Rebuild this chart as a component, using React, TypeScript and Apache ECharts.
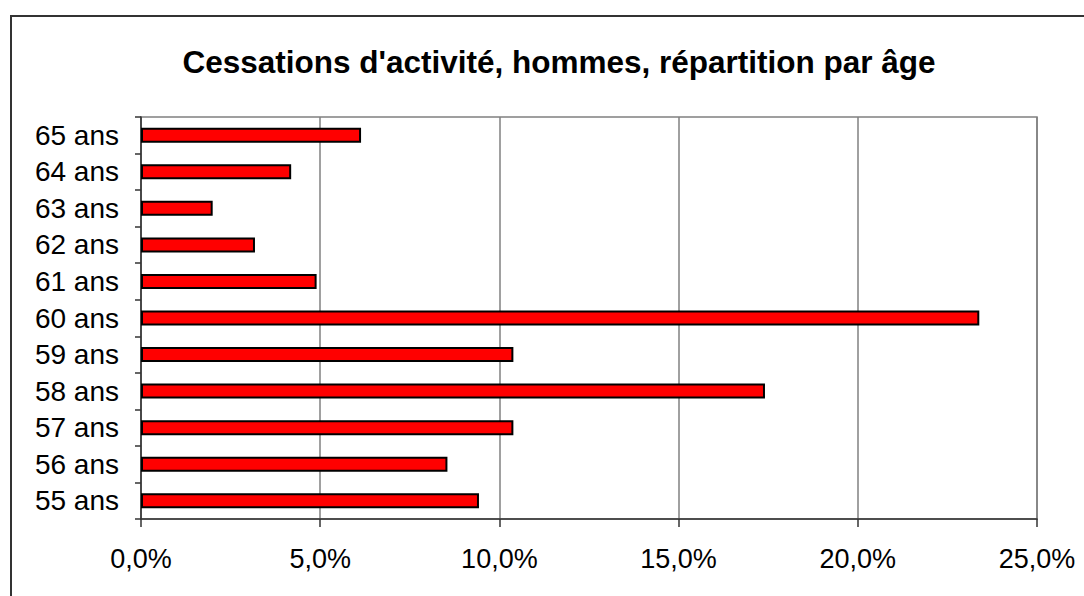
import React, { useEffect, useRef } from "react";
import * as echarts from "echarts";

const categories = ["55 ans", "56 ans", "57 ans", "58 ans", "59 ans", "60 ans", "61 ans", "62 ans", "63 ans", "64 ans", "65 ans"];
const values = [9.43, 8.55, 10.39, 17.41, 10.39, 23.39, 4.9, 3.18, 2.0, 4.19, 6.14];
const xTicks = { min: 0, max: 25, interval: 5 };
const titleText = "Cessations d'activité, hommes, répartition par âge";

export default function App() {
  const ref = useRef<HTMLDivElement>(null);
  useEffect(() => {
    const chart = echarts.init(ref.current!, null, { renderer: "svg" });
    const font = '"Liberation Sans", Arial, sans-serif';
    chart.setOption({
      animation: false,
      backgroundColor: "#ffffff",
      title: {
        text: titleText,
        left: 554,
        top: 41,
        textAlign: "center",
        textStyle: { fontFamily: font, fontWeight: "bold", fontSize: 31.5, color: "#000" },
      },
      graphic: [
        {
          type: "rect",
          shape: { x: 11, y: 16, width: 1200, height: 700 },
          style: { fill: "none", stroke: "#333", lineWidth: 2 },
          z: -10,
        },
        {
          type: "rect",
          shape: { x: 141, y: 117, width: 896, height: 402 },
          style: { fill: "none", stroke: "#808080", lineWidth: 1.5 },
          z: -5,
        },
      ],
      grid: { left: 141, top: 117, right: 47, bottom: 77, containLabel: false },
      xAxis: {
        type: "value",
        min: xTicks.min,
        max: xTicks.max,
        interval: xTicks.interval,
        axisLine: { show: true, lineStyle: { color: "#333", width: 1.5 } },
        axisTick: { show: true, inside: false, length: 8, lineStyle: { color: "#333", width: 1.5 } },
        splitLine: { show: true, lineStyle: { color: "#808080", width: 1.5 } },
        axisLabel: {
          margin: 26,
          fontFamily: font,
          fontSize: 27,
          color: "#000",
          formatter: (v: number) => v.toFixed(1).replace(".", ",") + "%",
        },
      },
      yAxis: {
        type: "category",
        data: categories,
        axisLine: { show: true, lineStyle: { color: "#333", width: 1.5 } },
        axisTick: { show: true, inside: false, length: 6, lineStyle: { color: "#333", width: 1.5 } },
        axisLabel: { margin: 22, fontFamily: font, fontSize: 28, color: "#000" },
        splitLine: { show: false },
      },
      series: [
        {
          type: "bar",
          data: values,
          barWidth: 15,
          itemStyle: { color: "#ff0000", borderColor: "#000", borderWidth: 2 },
        },
      ],
    });
    return () => chart.dispose();
  }, []);
  return <div ref={ref} style={{ position: "fixed", left: 0, top: 0, width: 1084, height: 596, background: "#fff" }} />;
}
